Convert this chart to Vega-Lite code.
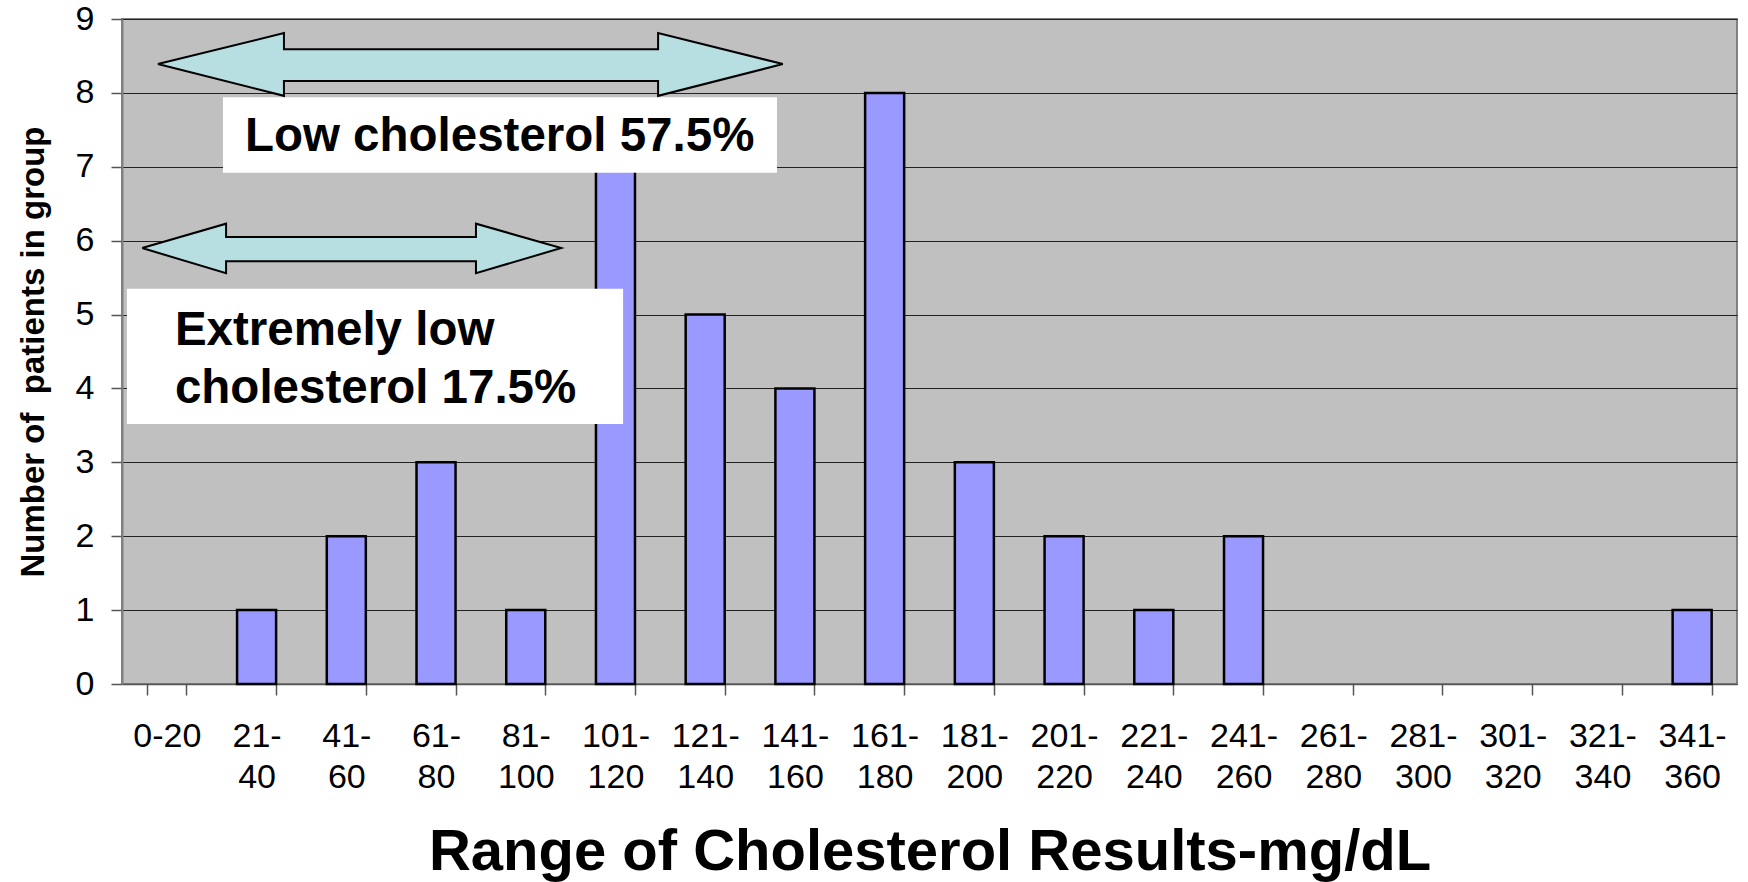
{
  "$schema": "https://vega.github.io/schema/vega-lite/v6.json",
  "width": 1615,
  "height": 665,
  "autosize": {"type": "none"},
  "padding": {"left": 122, "top": 19, "right": 11, "bottom": 198},
  "background": "white",
  "config": {
    "view": {"fill": "#C0C0C0", "stroke": "#808080", "strokeWidth": 2},
    "font": "Liberation Sans"
  },
  "datasets": {
    "bins": [
      {"range": "0-20", "patients": 0},
      {"range": "21-40", "patients": 1},
      {"range": "41-60", "patients": 2},
      {"range": "61-80", "patients": 3},
      {"range": "81-100", "patients": 1},
      {"range": "101-120", "patients": 7},
      {"range": "121-140", "patients": 5},
      {"range": "141-160", "patients": 4},
      {"range": "161-180", "patients": 8},
      {"range": "181-200", "patients": 3},
      {"range": "201-220", "patients": 2},
      {"range": "221-240", "patients": 1},
      {"range": "241-260", "patients": 2},
      {"range": "261-280", "patients": 0},
      {"range": "281-300", "patients": 0},
      {"range": "301-320", "patients": 0},
      {"range": "321-340", "patients": 0},
      {"range": "341-360", "patients": 1}
    ],
    "arrows": [
      {"arrow": "low", "i": 1, "mg": 8.0, "v": 8.39},
      {"arrow": "low", "i": 2, "mg": 36.1, "v": 8.81},
      {"arrow": "low", "i": 3, "mg": 36.1, "v": 8.59},
      {"arrow": "low", "i": 4, "mg": 119.5, "v": 8.59},
      {"arrow": "low", "i": 5, "mg": 119.5, "v": 8.81},
      {"arrow": "low", "i": 6, "mg": 147.3, "v": 8.39},
      {"arrow": "low", "i": 7, "mg": 119.5, "v": 7.96},
      {"arrow": "low", "i": 8, "mg": 119.5, "v": 8.16},
      {"arrow": "low", "i": 9, "mg": 36.1, "v": 8.16},
      {"arrow": "low", "i": 10, "mg": 36.1, "v": 7.96},
      {"arrow": "low", "i": 11, "mg": 8.0, "v": 8.39},
      {"arrow": "extremely low", "i": 1, "mg": 4.5, "v": 5.9},
      {"arrow": "extremely low", "i": 2, "mg": 23.2, "v": 6.23},
      {"arrow": "extremely low", "i": 3, "mg": 23.2, "v": 6.05},
      {"arrow": "extremely low", "i": 4, "mg": 78.9, "v": 6.05},
      {"arrow": "extremely low", "i": 5, "mg": 78.9, "v": 6.23},
      {"arrow": "extremely low", "i": 6, "mg": 97.9, "v": 5.9},
      {"arrow": "extremely low", "i": 7, "mg": 78.9, "v": 5.56},
      {"arrow": "extremely low", "i": 8, "mg": 78.9, "v": 5.72},
      {"arrow": "extremely low", "i": 9, "mg": 23.2, "v": 5.72},
      {"arrow": "extremely low", "i": 10, "mg": 23.2, "v": 5.56},
      {"arrow": "extremely low", "i": 11, "mg": 4.5, "v": 5.9}
    ],
    "boxes": [
      {"box": "low", "mg": 22.5, "mg2": 146.0, "top": 7.94, "bottom": 6.92},
      {"box": "extremely low", "mg": 1.1, "mg2": 111.7, "top": 5.35, "bottom": 3.52}
    ],
    "notes": [
      {"note": "Low cholesterol 57.5%", "mg": 27.4, "v": 7.21},
      {"note": "Extremely low", "mg": 11.8, "v": 4.59},
      {"note": "cholesterol 17.5%", "mg": 11.8, "v": 3.8}
    ]
  },
  "layer": [
    {
      "data": {"name": "bins"},
      "transform": [{"filter": "datum.patients > 0"}],
      "mark": {"type": "bar", "fill": "#9999FF", "stroke": "#000000", "strokeWidth": 2.5},
      "encoding": {
        "x": {
          "field": "range",
          "type": "nominal",
          "sort": null,
          "scale": {
            "domain": ["0-20", "21-40", "41-60", "61-80", "81-100", "101-120", "121-140", "141-160", "161-180", "181-200", "201-220", "221-240", "241-260", "261-280", "281-300", "301-320", "321-340", "341-360"],
            "paddingInner": 0.565,
            "paddingOuter": 0.2825
          },
          "axis": {
            "title": "Range of Cholesterol Results-mg/dL",
            "titleFontSize": 58,
            "titleFontWeight": "bold",
            "titleColor": "#000000",
            "titlePadding": 29,
            "labelAngle": 0,
            "labelFontSize": 34,
            "labelColor": "#000000",
            "labelLineHeight": 41,
            "labelPadding": 24,
            "labelExpr": "datum.label == '0-20' ? datum.label : [slice(datum.label, 0, indexof(datum.label, '-') + 1), slice(datum.label, indexof(datum.label, '-') + 1)]",
            "tickBand": "extent",
            "tickSize": 11,
            "tickColor": "#555555",
            "tickWidth": 1.5,
            "domainColor": "#555555",
            "domainWidth": 1.5,
            "grid": false
          }
        },
        "y": {
          "field": "patients",
          "type": "quantitative",
          "scale": {"domain": [0, 9], "nice": false},
          "axis": {
            "values": [0, 1, 2, 3, 4, 5, 6, 7, 8, 9],
            "title": "Number of \u00a0patients in group",
            "titleFontSize": 33,
            "titleFontWeight": "bold",
            "titleColor": "#000000",
            "titlePadding": 25,
            "labelFontSize": 34,
            "labelColor": "#000000",
            "labelPadding": 17,
            "tickSize": 11,
            "tickColor": "#555555",
            "tickWidth": 1.5,
            "domainColor": "#808080",
            "domainWidth": 2,
            "grid": true,
            "gridColor": "#222222",
            "gridWidth": 1.2
          }
        }
      }
    },
    {
      "data": {"name": "boxes"},
      "mark": {"type": "rect", "fill": "#FFFFFF", "stroke": null},
      "encoding": {
        "x": {"field": "mg", "type": "quantitative", "scale": {"domain": [0, 360], "nice": false, "zero": false}, "axis": null},
        "x2": {"field": "mg2"},
        "y": {"field": "top", "type": "quantitative", "axis": null},
        "y2": {"field": "bottom"}
      }
    },
    {
      "data": {"name": "arrows"},
      "mark": {"type": "line", "fill": "#B7DEE1", "fillOpacity": 1, "stroke": "#000000", "strokeWidth": 2, "interpolate": "linear", "strokeJoin": "miter"},
      "encoding": {
        "x": {"field": "mg", "type": "quantitative", "scale": {"domain": [0, 360], "nice": false, "zero": false}, "axis": null},
        "y": {"field": "v", "type": "quantitative", "axis": null},
        "detail": {"field": "arrow", "type": "nominal"},
        "order": {"field": "i", "type": "quantitative"}
      }
    },
    {
      "data": {"name": "notes"},
      "mark": {"type": "text", "align": "left", "baseline": "alphabetic", "fontSize": 47.5, "fontWeight": "bold", "font": "Liberation Sans", "color": "#000000"},
      "encoding": {
        "x": {"field": "mg", "type": "quantitative", "scale": {"domain": [0, 360], "nice": false, "zero": false}, "axis": null},
        "y": {"field": "v", "type": "quantitative", "axis": null},
        "text": {"field": "note", "type": "nominal"}
      }
    }
  ],
  "resolve": {"scale": {"x": "independent"}, "axis": {"y": "independent"}}
}
